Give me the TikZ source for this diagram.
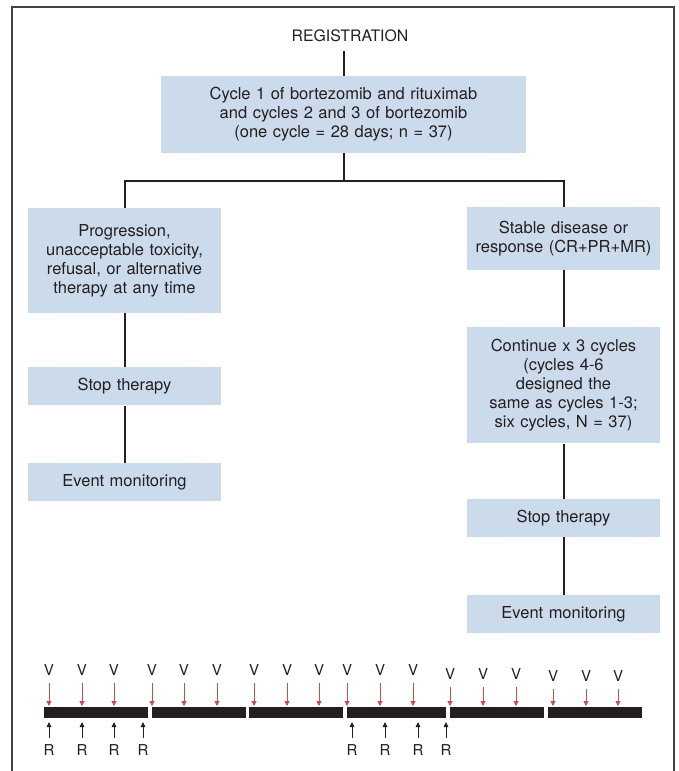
\documentclass[tikz,border=0pt]{standalone}
\usepackage{fontspec}
\setmainfont{TeX Gyre Heros}
\usepackage{tikz}
\usetikzlibrary{positioning, arrows.meta}

\definecolor{boxblue}{RGB}{204,219,236}
\definecolor{ink}{RGB}{35,31,32}
\definecolor{visitred}{RGB}{192,80,77}

\begin{document}
\begin{tikzpicture}[
    x=1pt, y=-1pt,
    node distance=55pt,
    block/.style={rectangle, fill=boxblue, text width=193pt, align=center, inner sep=0pt, font=\fontsize{16.5}{19}\selectfont, text=ink},
    wideblock/.style={block, text width=365pt, minimum height=77pt},
    line/.style={draw=ink, line width=2pt},
    visit/.style={draw=visitred, line width=0.9pt, shorten <=7pt, -{Triangle[width=5pt,length=5pt]}},
    resp/.style={draw=ink, line width=0.9pt, shorten <=7pt, -{Triangle[width=4.5pt,length=5pt]}},
    tick/.style={inner sep=0pt, font=\fontsize{15}{18}\selectfont, text=ink}
]
    \useasboundingbox (0,0) rectangle (679,771);
    \clip (0,0) rectangle (679,771);
    \draw [ink!85, line width=1.5pt] (12,7) rectangle (674,800);

    % Flow nodes
    \node [tick, font=\fontsize{15.8}{18}\selectfont] (reg) at (350,35.5) {REGISTRATION};
    \node [wideblock] (start) at (343.5,114.5) {Cycle 1 of bortezomib and rituximab\\and cycles 2 and 3 of bortezomib\\(one cycle = 28 days; n = 37)};

    \node [block, minimum height=105pt] (prog) at (124.5,260.5) {Progression,\\unacceptable toxicity,\\refusal, or alternative\\therapy at any time};
    \node [block, minimum height=38pt, below=54pt of prog] (stopL) {Stop therapy};
    \node [block, minimum height=38pt, below=57pt of stopL] (eventL) {Event monitoring};

    \node [block, minimum height=63pt] (stable) at (563.5,238.5) {Stable disease or\\response (CR+PR+MR)};
    \node [block, minimum height=116pt, below=57pt of stable] (cont) {Continue x 3 cycles\\(cycles 4-6\\designed the\\same as cycles 1-3;\\six cycles, N = 37)};
    \node [block, minimum height=38pt, below=55pt of cont] (stopR) {Stop therapy};
    \node [block, minimum height=38pt, below=58pt of stopR] (eventR) {Event monitoring};

    \coordinate (split) at (start.south |- 0,181);

    % Connecting lines
    \path [line] ([yshift=-9pt]reg.south -| start.north) -- (start.north);
    \path [line] (start.south) -- (split);
    \path [line] (prog.north) |- (split) -| (stable.north);
    \path [line] (prog) -- (stopL);
    \path [line] (stopL) -- (eventL);
    \path [line] (stable) -- (cont);
    \path [line] (cont) -- (stopR);
    \path [line] (stopR) -- (eventR);

    % Timeline of cycles
    \foreach \a/\b in {44/148, 152/246, 249/343, 347/446, 450/544, 548/642}
        \fill [ink] (\a,707) rectangle (\b,718);

    \foreach \x/\ly [count=\i] in {49/670.5, 82/670.5, 114/670.5, 152/670.5, 184/670.5, 217/670.5,
                                   254/670.5, 287/670.5, 319/670.5, 347/670.5, 380/670.5, 413/670.5,
                                   450/674, 483/674, 516/674, 553/676, 586/676, 618/676} {
        \node [tick] (v\i) at (\x,\ly) {V};
        \path [visit] (v\i.south) -- (\x,706);
    }
    \foreach \x [count=\i] in {49, 82, 114, 143, 352, 385, 418, 446} {
        \node [tick] (r\i) at (\x,750.5) {R};
        \path [resp] (r\i.north) -- (\x,722);
    }
\end{tikzpicture}
\end{document}
